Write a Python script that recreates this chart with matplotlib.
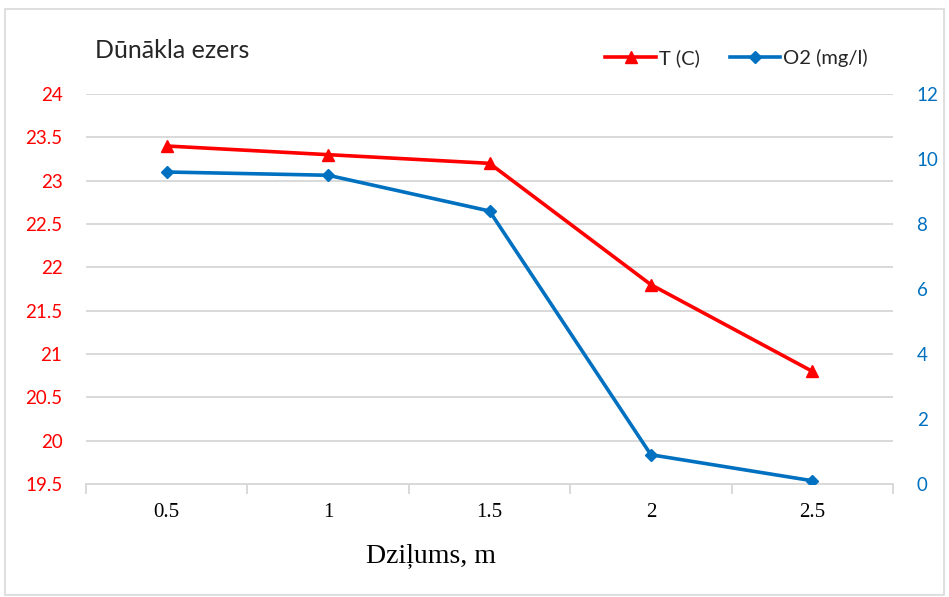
import matplotlib
matplotlib.use("Agg")
import matplotlib.pyplot as plt
from matplotlib.patches import Rectangle

depths = ["0.5", "1", "1.5", "2", "2.5"]
temperature = [23.4, 23.3, 23.2, 21.8, 20.8]
oxygen = [9.6, 9.5, 8.4, 0.9, 0.1]

title = "Dūnākla ezers"
xlabel = "Dziļums, m"
temp_label = "T (C)"
oxy_label = "O2 (mg/l)"

RED = "#FF0000"
BLUE = "#0070C0"
GRID = "#D9D9D9"
SANS = ["Lato", "DejaVu Sans"]
SERIF = ["Liberation Serif", "DejaVu Serif"]

fig = plt.figure(figsize=(9.49, 5.97), dpi=100)
fig.patches.append(Rectangle((5 / 949, 1 - 595 / 597), 939 / 949, 586 / 597,
                             transform=fig.transFigure, fill=False,
                             edgecolor="#D9D9D9", linewidth=1.2))

ax = fig.add_axes([86 / 949, 1 - 484 / 597, (893 - 86) / 949, (484 - 94) / 597])
ax2 = ax.twinx()

x = list(range(len(depths)))
l1, = ax.plot(x, temperature, color=RED, lw=2.6, marker="^", ms=9,
              label=temp_label, zorder=3)
l2, = ax2.plot(x, oxygen, color=BLUE, lw=2.6, marker="D", ms=6.5,
               label=oxy_label, zorder=3)

ax.set_xlim(-0.5, len(depths) - 0.5)
ax.set_ylim(19.5, 24)
ax2.set_ylim(0, 12)

ax.set_yticks([19.5 + 0.5 * i for i in range(10)])
ax.set_yticklabels([f"{19.5 + 0.5 * i:g}" for i in range(10)])
ax2.set_yticks(range(0, 13, 2))

ax.yaxis.grid(True, color=GRID, lw=1.4)
ax.set_axisbelow(True)

for a in (ax, ax2):
    for s in a.spines.values():
        s.set_visible(False)
ax.spines["bottom"].set_visible(True)
ax.spines["bottom"].set_color(GRID)
ax.spines["bottom"].set_linewidth(1.4)

ax.tick_params(axis="y", length=0, pad=17, colors=RED, labelsize=13.5)
for t in ax.get_yticklabels():
    t.set_fontfamily(SANS)
ax2.tick_params(axis="y", length=0, pad=17, colors=BLUE, labelsize=13.5)
for t in ax2.get_yticklabels():
    t.set_fontfamily(SANS)

# category boundaries carry the tick marks, centres carry the labels
ax.set_xticks([i - 0.5 for i in range(len(depths) + 1)])
ax.set_xticklabels([])
ax.set_xticks(x, minor=True)
ax.set_xticklabels(depths, minor=True)
ax.tick_params(axis="x", which="major", length=7, color=GRID, width=1.4)
ax.tick_params(axis="x", which="minor", length=0, pad=14, labelsize=15)
for t in ax.get_xticklabels(minor=True):
    t.set_fontfamily(SERIF)

fig.text(95 / 949, 1 - 50 / 597, title, fontsize=18, family=SANS,
         color="#262626", ha="left", va="center")
fig.text(431 / 949, 1 - 556 / 597, xlabel, fontsize=20, family=SERIF,
         color="black", ha="center", va="center")

fig.legend(handles=[l1, l2], loc="center right", ncol=2, frameon=False,
           bbox_to_anchor=(878 / 949, 1 - 58 / 597),
           prop={"family": SANS, "size": 14.5}, handlelength=2.5,
           columnspacing=1.5, handletextpad=0.15, borderpad=0,
           labelcolor="#262626")

fig.savefig("out.png", dpi=100)
